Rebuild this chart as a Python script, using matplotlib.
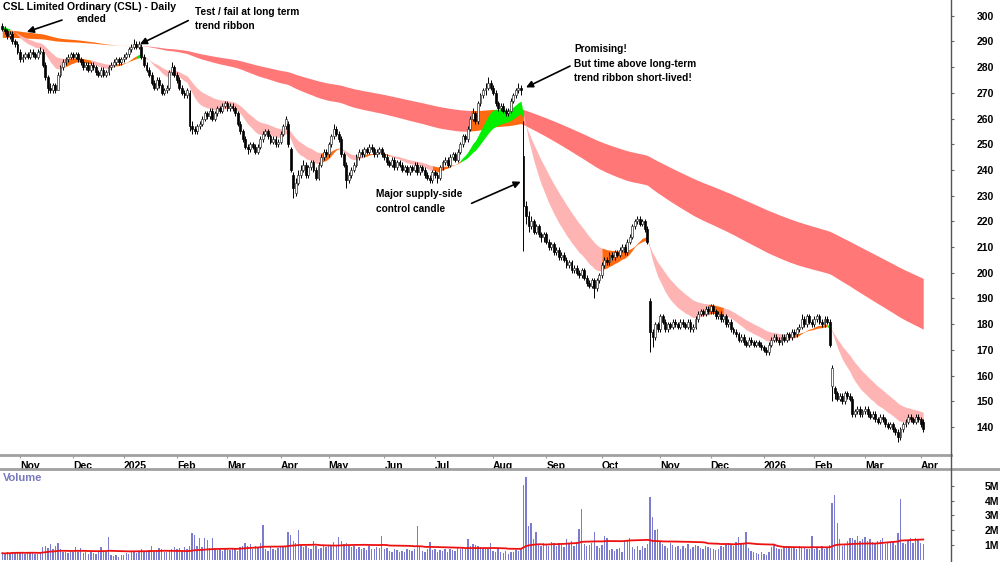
import numpy as np
import pandas as pd
import matplotlib
matplotlib.use('Agg')
import matplotlib.pyplot as plt
from matplotlib.lines import Line2D

# ASX trading days shown on the chart (23 Oct 2024 .. 2 Apr 2026)
FIRST_DAY = '2024-10-23'
LAST_DAY = '2026-04-02'
HOLIDAYS = ['2024-12-25', '2024-12-26', '2025-01-01', '2025-01-27', '2025-04-18',
            '2025-04-21', '2025-04-25', '2025-06-09', '2025-12-25', '2025-12-26',
            '2026-01-01', '2026-01-26']

# daily prices, one row per month (Oct 2024 .. Apr 2026)
closes = [
    295, 294, 292, 293, 290, 289, 286,
    283, 284, 285, 284, 286, 285, 284, 286, 286, 281, 276, 272, 271, 273, 271, 277, 280, 282, 283, 284, 285,
    284, 285, 283, 282, 280, 281, 279, 281, 280, 278, 277, 279, 277, 278, 280, 281, 282, 283, 282, 283,
    284, 285, 287, 288, 289, 288, 289, 284, 281, 279, 277, 274, 272, 275, 273, 270, 271, 272, 278, 280, 277,
    275, 272, 270, 269, 271, 257, 256, 255, 257, 258, 260, 262, 261, 263, 260, 262, 264, 263, 265, 266,
    264, 265, 264, 262, 258, 255, 252, 249, 248, 250, 249, 247, 249, 252, 254, 255, 253, 251, 252, 250, 251,
    254, 257, 260, 250, 240, 233, 235, 238, 240, 242, 238, 241, 243, 240, 237, 242, 245, 247, 246,
    250, 253, 256, 254, 252, 246, 242, 236, 238, 240, 242, 245, 247, 246, 248, 247, 249, 248, 246, 247, 248, 246,
    245, 243, 242, 244, 241, 243, 242, 240, 241, 239, 241, 240, 242, 239, 241, 240, 238, 237, 236, 239,
    238, 237, 241, 243, 244, 242, 245, 246, 244, 247, 250, 253, 252, 256, 260, 262, 259, 266, 269, 271, 272, 274, 272,
    270, 266, 264, 265, 263, 262, 263, 267, 269, 271, 272, 271, 226, 222, 218, 220, 216, 218, 215, 214, 215,
    212, 210, 211, 208, 209, 206, 207, 205, 203, 204, 201, 202, 200, 199, 201, 198, 196, 195, 197, 194, 197, 199,
    203, 205, 204, 207, 206, 208, 207, 209, 210, 208, 212, 214, 218, 220, 221, 219, 220, 217, 212, 177, 175, 180, 178,
    183, 181, 178, 180, 179, 181, 180, 179, 181, 180, 179, 181, 178, 179, 182, 184, 185, 184, 186, 185,
    187, 185, 183, 184, 182, 183, 180, 181, 178, 177, 176, 174, 175, 173, 172, 174, 173, 172, 173, 172, 171,
    170, 169, 172, 174, 175, 174, 173, 175, 174, 176, 175, 177, 176, 178, 179, 182, 180, 183, 181, 180,
    182, 183, 181, 180, 182, 181, 172, 163, 153, 151, 152, 150, 153, 152, 151, 145, 146, 147, 145, 146,
    147, 145, 144, 145, 143, 142, 144, 143, 141, 140, 141, 139, 138, 136, 139, 141, 142, 144, 143, 142, 144, 143,
    141, 139,
]
opens = [
    296, 295, 294, 292, 293, 290, 289,
    286, 283, 284, 285, 284, 286, 285, 284, 286, 286, 281, 276, 272, 271, 273, 271, 277, 280, 282, 283, 284,
    285, 284, 285, 283, 282, 280, 281, 279, 281, 280, 278, 277, 279, 277, 278, 280, 281, 282, 283, 282,
    283, 284, 285, 287, 288, 289, 288, 288, 284, 281, 279, 277, 274, 272, 275, 273, 270, 271, 272, 278, 280,
    277, 275, 272, 270, 269, 270, 257, 256, 255, 257, 258, 260, 262, 261, 263, 260, 262, 264, 263, 265,
    266, 264, 265, 264, 262, 258, 255, 252, 249, 248, 250, 249, 247, 249, 252, 254, 255, 253, 251, 252, 250,
    251, 254, 257, 258, 248, 238, 231, 235, 238, 240, 242, 238, 241, 243, 240, 237, 242, 245, 247,
    246, 250, 253, 256, 254, 252, 246, 242, 236, 238, 240, 242, 245, 247, 246, 248, 247, 249, 248, 246, 247, 248,
    246, 245, 243, 242, 244, 241, 243, 242, 240, 241, 239, 241, 240, 242, 239, 241, 240, 238, 237, 236,
    239, 238, 237, 241, 243, 244, 242, 245, 246, 244, 247, 250, 253, 252, 256, 260, 262, 259, 266, 269, 271, 272, 274,
    272, 270, 266, 264, 265, 263, 262, 263, 267, 269, 271, 272, 245.5, 226, 222, 218, 220, 216, 218, 215, 214,
    215, 212, 210, 211, 208, 209, 206, 207, 205, 203, 204, 201, 202, 200, 199, 201, 198, 196, 195, 197, 194, 197,
    199, 203, 205, 204, 207, 206, 208, 207, 209, 210, 208, 212, 214, 218, 220, 221, 219, 220, 217, 189, 177, 175, 180,
    178, 183, 181, 178, 180, 179, 181, 180, 179, 181, 180, 179, 181, 178, 179, 182, 184, 185, 184, 186,
    185, 187, 185, 183, 184, 182, 183, 180, 181, 178, 177, 176, 174, 175, 173, 172, 174, 173, 172, 173, 172,
    171, 170, 169, 172, 174, 175, 174, 173, 175, 174, 176, 175, 177, 176, 178, 179, 182, 180, 183, 181,
    180, 182, 183, 181, 180, 182, 181, 156, 155, 153, 151, 152, 150, 153, 152, 151, 145, 146, 147, 145,
    146, 147, 145, 144, 145, 143, 142, 144, 143, 141, 140, 141, 139, 138, 136, 139, 141, 142, 144, 143, 142, 144,
    143, 142,
]
highs = [
    297, 296, 295, 294, 294, 291, 290,
    287, 285, 286, 286, 287, 287, 286, 287, 288, 287, 282, 277, 274, 274, 274, 278, 281, 283, 284, 285, 286,
    286, 286, 286, 284, 283, 282, 282, 282, 282, 281, 279, 280, 280, 279, 281, 282, 283, 284, 284, 284,
    285, 286, 288, 289, 291, 290, 290, 289, 285, 282, 280, 278, 275, 276, 276, 274, 272, 273, 279, 282, 281,
    278, 276, 273, 271, 272, 271, 259, 257, 258, 259, 261, 263, 263, 264, 264, 263, 265, 265, 266, 267,
    267, 266, 266, 265, 263, 259, 256, 253, 250, 251, 251, 250, 250, 253, 255, 256, 256, 254, 253, 253, 252,
    255, 258, 261, 259, 249, 239, 237, 240, 242, 244, 243, 242, 244, 244, 241, 243, 246, 248, 248,
    251, 254, 258, 257, 255, 253, 247, 243, 239, 241, 243, 246, 248, 248, 249, 249, 250, 250, 249, 248, 249, 249,
    247, 246, 244, 245, 245, 244, 244, 243, 242, 242, 242, 242, 243, 243, 242, 242, 241, 239, 238, 240,
    240, 239, 242, 244, 245, 245, 246, 247, 247, 248, 251, 254, 254, 257, 261, 264, 263, 267, 270, 272, 274, 276, 275,
    273, 271, 267, 266, 266, 264, 264, 268, 270, 272, 274, 273, 259, 228, 224, 222, 221, 219, 219, 216, 216,
    216, 213, 212, 212, 210, 210, 208, 208, 206, 205, 205, 203, 203, 201, 202, 202, 199, 197, 198, 198, 198, 200,
    204, 206, 206, 208, 208, 209, 209, 210, 211, 211, 213, 215, 219, 221, 222, 222, 221, 221, 218, 190, 178, 181, 181,
    184, 184, 182, 181, 181, 182, 182, 181, 182, 182, 181, 182, 182, 180, 183, 185, 186, 186, 187, 187,
    188, 188, 186, 185, 185, 184, 184, 182, 182, 179, 178, 177, 176, 176, 174, 175, 175, 174, 174, 174, 173,
    172, 171, 173, 175, 176, 176, 175, 176, 176, 177, 177, 178, 178, 179, 180, 184, 183, 184, 184, 182,
    183, 184, 184, 182, 183, 183, 182, 164, 156, 154, 153, 153, 154, 154, 153, 152, 147, 148, 148, 147,
    148, 148, 146, 146, 146, 144, 145, 145, 144, 142, 142, 142, 140, 139, 140, 142, 143, 145, 145, 144, 145, 145,
    144, 143,
]
lows = [
    294, 293, 291, 291, 289, 288, 285,
    282, 282, 283, 283, 283, 284, 283, 283, 285, 280, 275, 270, 270, 270, 270, 271, 276, 279, 281, 282, 283,
    283, 283, 282, 281, 279, 279, 278, 278, 279, 277, 276, 276, 276, 276, 277, 279, 280, 281, 281, 281,
    282, 283, 284, 286, 287, 287, 287, 283, 280, 278, 276, 273, 271, 271, 272, 269, 269, 270, 271, 277, 276,
    274, 271, 269, 268, 268, 255, 254, 254, 254, 256, 257, 259, 260, 260, 259, 259, 261, 262, 262, 264,
    263, 263, 263, 261, 257, 254, 251, 248, 246, 247, 248, 246, 246, 248, 251, 253, 252, 250, 250, 249, 249,
    250, 253, 256, 249, 239, 229, 230, 234, 237, 239, 237, 237, 240, 239, 236, 236, 241, 244, 245,
    245, 249, 252, 253, 251, 245, 241, 233, 235, 237, 239, 241, 244, 245, 245, 246, 246, 247, 245, 245, 246, 245,
    244, 242, 241, 241, 240, 240, 241, 239, 239, 238, 238, 239, 239, 238, 238, 239, 237, 236, 235, 235,
    237, 235, 236, 240, 242, 241, 241, 244, 243, 243, 246, 249, 251, 251, 255, 259, 258, 258, 265, 268, 269, 271, 271,
    269, 265, 263, 263, 262, 261, 261, 262, 266, 268, 270, 269, 208.5, 219, 216, 217, 215, 215, 214, 212, 212,
    211, 209, 209, 207, 207, 205, 205, 204, 202, 202, 200, 200, 199, 198, 198, 197, 195, 194, 194, 190, 193, 196,
    198, 202, 203, 203, 205, 205, 206, 206, 208, 207, 207, 211, 213, 217, 219, 218, 218, 216, 211, 169, 171, 174, 177,
    177, 180, 177, 177, 178, 178, 179, 178, 178, 179, 178, 178, 177, 177, 178, 181, 183, 183, 183, 184,
    184, 184, 182, 182, 181, 181, 179, 179, 177, 176, 175, 173, 173, 172, 171, 171, 172, 171, 171, 171, 170,
    169, 168, 168, 171, 173, 173, 172, 172, 173, 173, 174, 174, 175, 175, 177, 178, 179, 179, 180, 179,
    179, 181, 180, 179, 179, 180, 171, 150, 151, 150, 150, 149, 149, 151, 150, 144, 144, 145, 144, 144,
    145, 144, 143, 143, 142, 141, 141, 142, 140, 139, 139, 138, 137, 134, 135, 138, 140, 141, 142, 141, 141, 142,
    140, 138,
]
# daily volume in millions of shares
volumes = [
    0.45, 0.40, 0.50, 0.42, 0.55, 0.48, 0.50,
    0.52, 0.45, 0.40, 0.55, 0.48, 0.50, 0.42, 0.38, 0.45, 0.85, 0.95, 0.80, 1.05, 0.70, 0.90, 1.15, 0.75, 0.55, 0.50, 0.45, 0.60,
    0.55, 0.85, 0.50, 0.80, 0.45, 0.55, 0.40, 0.50, 0.45, 0.40, 0.55, 0.85, 0.60, 0.50, 1.55, 0.35, 0.25, 0.30, 0.20, 0.35,
    0.30, 0.45, 0.40, 0.55, 0.50, 0.45, 0.60, 0.75, 0.55, 0.50, 0.65, 0.90, 0.55, 0.60, 0.80, 0.70, 0.50, 0.55, 0.60, 0.75, 0.85,
    0.75, 0.80, 0.60, 0.85, 0.70, 0.90, 1.80, 1.65, 0.95, 1.45, 0.85, 1.45, 1.35, 0.80, 1.45, 0.70, 0.65, 0.80, 0.60, 0.75,
    0.70, 0.65, 0.75, 0.80, 0.60, 0.85, 0.95, 1.10, 0.90, 1.05, 0.70, 0.95, 0.80, 1.15, 2.35, 0.75, 0.60, 0.85, 0.70, 0.65, 0.80,
    0.85, 0.90, 0.95, 1.85, 1.65, 1.30, 1.10, 2.00, 1.00, 0.85, 0.95, 0.80, 0.75, 1.30, 0.90, 0.70, 0.80, 0.95, 0.85,
    0.90, 1.00, 1.20, 0.95, 1.55, 1.30, 1.05, 1.10, 0.95, 0.85, 0.90, 0.75, 0.85, 0.70, 0.80, 0.65, 0.90, 0.75, 0.70, 0.85, 0.80, 1.60,
    0.75, 0.80, 0.60, 0.55, 0.70, 0.65, 0.50, 0.60, 0.55, 0.70, 0.65, 0.60, 0.75, 2.30, 0.85, 0.60, 0.55, 0.70, 1.20, 0.65,
    0.70, 0.55, 0.65, 0.60, 0.75, 0.50, 0.70, 0.65, 0.60, 0.80, 0.75, 0.85, 0.70, 1.40, 0.90, 1.05, 1.00, 0.95, 0.85, 0.75, 0.80, 0.70, 1.10,
    0.60, 0.55, 0.70, 0.50, 0.45, 0.60, 0.40, 0.55, 0.50, 0.65, 0.60, 0.70, 5.05, 5.57, 2.30, 2.50, 1.40, 1.85, 1.00, 0.90, 1.10,
    1.05, 0.95, 1.20, 1.10, 0.90, 1.15, 1.00, 0.85, 1.40, 1.10, 1.25, 0.95, 1.20, 2.10, 3.40, 1.05, 0.90, 1.00, 1.10, 1.90, 0.95, 0.80,
    1.00, 1.60, 1.50, 0.65, 0.70, 0.60, 0.75, 0.80, 0.55, 1.30, 1.35, 1.50, 0.85, 0.70, 0.90, 0.65, 0.95, 0.80, 1.05, 4.26, 2.90, 2.00, 2.05,
    1.20, 1.05, 0.95, 0.80, 1.10, 1.00, 0.85, 0.90, 0.75, 0.95, 0.80, 1.05, 0.70, 0.85, 1.00, 0.90, 0.80, 0.75, 0.95, 0.85,
    0.80, 0.70, 0.65, 0.75, 0.90, 0.85, 1.05, 1.10, 1.00, 0.95, 1.20, 1.56, 1.05, 1.10, 1.90, 0.80, 0.60, 0.50, 0.45, 0.40, 0.55,
    0.40, 0.35, 0.55, 0.85, 1.00, 0.80, 0.75, 0.70, 0.85, 0.90, 0.95, 0.80, 0.85, 0.75, 0.90, 0.85, 0.80, 0.70, 0.75, 1.60,
    0.70, 0.85, 0.65, 0.90, 0.75, 0.80, 1.00, 3.86, 4.40, 2.50, 1.40, 0.95, 1.05, 1.30, 1.45, 1.50, 1.35, 1.60, 1.25, 1.40,
    1.55, 1.30, 1.40, 1.20, 1.10, 1.25, 1.35, 1.50, 1.05, 1.20, 1.15, 1.30, 1.00, 1.80, 4.10, 1.10, 1.05, 1.25, 1.45, 1.10, 1.50, 1.35,
    1.10, 1.05,
]

# ribbon settings: EMA spans and their values just before the first bar
SHORT_SPANS = (15, 30)
SHORT_START = (296.0, 294.5)
LONG_SPANS = (150, 250)
LONG_START = (294.4, 291.5)

# ribbon colour regimes (first bar index of each regime)
short_starts = [0, 3, 25, 35, 45, 53, 55, 126, 134, 143, 153, 170, 181, 206, 237, 255, 279, 285, 312, 326, 327]
short_modes = ['up', 'down', 'mixed', 'down', 'mixed', 'up', 'down', 'mixed', 'down', 'mixed', 'down',
               'mixed', 'up', 'down', 'mixed', 'down', 'mixed', 'down', 'mixed', 'up', 'down']
long_starts = [0, 55, 185, 206]
long_modes = ['mixed', 'down', 'mixed', 'down']

SHORT_COLORS = {'up': '#00f000', 'mixed': '#ff6a10', 'down': '#ffb4b4'}
LONG_COLORS = {'up': '#00f000', 'mixed': '#ff6a10', 'down': '#ff7777'}


def ema(values, span, start):
    alpha = 2.0 / (span + 1)
    out = []
    e = start
    for v in values:
        e = e + alpha * (v - e)
        out.append(e)
    return np.array(out)


def draw_ribbon(ax, x, a, b, starts, modes, colors, z):
    hi = np.maximum(a, b)
    lo = np.minimum(a, b)
    ends = starts[1:] + [len(x) - 1]
    for s, e, m in zip(starts, ends, modes):
        ax.fill_between(x[s:e + 1], lo[s:e + 1], hi[s:e + 1], color=colors[m], lw=0, zorder=z)


def main():
    dates = pd.bdate_range(FIRST_DAY, LAST_DAY)
    dates = dates[~dates.isin(pd.to_datetime(HOLIDAYS))]
    x = np.arange(len(dates))
    c = np.array(closes, float)
    o = np.array(opens, float)
    h = np.maximum(np.array(highs, float), np.maximum(o, c))
    l = np.minimum(np.array(lows, float), np.minimum(o, c))
    v = np.array(volumes, float)
    assert len(c) == len(o) == len(h) == len(l) == len(v) == len(x)

    plt.rcParams['font.family'] = ['Liberation Sans', 'DejaVu Sans']
    plt.rcParams['font.weight'] = 'bold'

    fig = plt.figure(figsize=(10, 5.62), dpi=100)
    ax = fig.add_axes([0, 107 / 562, 0.951, 455 / 562])
    vax = fig.add_axes([0, 0, 0.951, 93 / 562])

    # ribbons
    draw_ribbon(ax, x, ema(c, LONG_SPANS[0], LONG_START[0]), ema(c, LONG_SPANS[1], LONG_START[1]),
                long_starts, long_modes, LONG_COLORS, 1)
    draw_ribbon(ax, x, ema(c, SHORT_SPANS[0], SHORT_START[0]), ema(c, SHORT_SPANS[1], SHORT_START[1]),
                short_starts, short_modes, SHORT_COLORS, 2)

    # candles
    up = c >= o
    ax.vlines(x, l, h, color='black', lw=0.7, zorder=3)
    body_lo = np.minimum(o, c)
    body_h = np.maximum(np.abs(c - o), 0.35)
    ax.bar(x[up], body_h[up], bottom=body_lo[up], width=0.75, color='white',
           edgecolor='#333333', lw=0.5, zorder=4)
    ax.bar(x[~up], body_h[~up], bottom=body_lo[~up], width=0.75, color='black',
           edgecolor='black', lw=0.5, zorder=4)

    ax.set_xlim(-0.905, 374.98)
    ax.set_ylim(129.07, 306.11)

    # month ticks
    starts = [i for i in range(1, len(dates)) if dates[i].month != dates[i - 1].month]
    labels = [str(dates[i].year) if dates[i].month == 1 else dates[i].strftime('%b') for i in starts]
    ax.set_xticks(starts)
    ax.set_xticklabels(labels, fontsize=7.5, fontweight='bold', ha='left')
    ax.tick_params(axis='x', direction='out', length=2.5, color='#999999', pad=1.5)

    ax.yaxis.tick_right()
    ax.set_yticks(np.arange(140, 301, 10))
    ax.tick_params(axis='y', direction='out', length=2.5, color='#666666', pad=28.5, labelsize=7.5)
    plt.setp(ax.get_yticklabels(), ha='right', fontweight='bold')

    for s in ['top', 'left', 'right']:
        ax.spines[s].set_visible(False)
    ax.spines['bottom'].set_color('#a0a0a0')
    ax.spines['bottom'].set_linewidth(2)

    # annotations
    txt = dict(fontsize=7.3, fontweight='bold', color='black', zorder=10, linespacing=1.55)
    arrow = dict(arrowstyle='-|>', color='black', lw=1.2, mutation_scale=10, shrinkA=0, shrinkB=0)
    ax.text(29.5, 298.6, 'ended', ha='left', va='center', **txt)
    ax.annotate('', xy=(9.7, 293.7), xytext=(23.6, 298.3), arrowprops=arrow, zorder=10)
    ax.text(76.2, 303.4, 'Test / fail at long term\ntrend ribbon', ha='left', va='top', **txt)
    ax.annotate('', xy=(54.4, 288.9), xytext=(73.5, 298.1), arrowprops=arrow, zorder=10)
    ax.text(226, 288.8, 'Promising!\nBut time above long-term\ntrend ribbon short-lived!',
            ha='left', va='top', **txt)
    ax.annotate('', xy=(207, 272.1), xytext=(224.4, 280.4), arrowprops=arrow, zorder=10)
    ax.text(147.7, 232.4, 'Major supply-side\ncontrol candle', ha='left', va='top', **txt)
    ax.annotate('', xy=(204.9, 235.4), xytext=(185.5, 227.0), arrowprops=arrow, zorder=10)

    fig.text(0.003, 1 - 7.5 / 562, 'CSL Limited Ordinary (CSL) - Daily', ha='left', va='center',
             fontsize=7.6, fontweight='bold', zorder=20,
             bbox=dict(facecolor='white', edgecolor='none', pad=1.0))

    # volume panel
    vax.bar(x, v, width=0.55, color='#7b7bcf', lw=0, zorder=2)
    vma = pd.Series(v).rolling(50, min_periods=1).mean()
    vax.plot(x, vma, color='#ee1111', lw=1.3, zorder=3)
    vax.set_xlim(-0.905, 374.98)
    vax.set_ylim(-0.15, 6.13)
    vax.set_xticks([])
    vax.yaxis.tick_right()
    vax.set_yticks([1, 2, 3, 4, 5])
    vax.set_yticklabels(['1M', '2M', '3M', '4M', '5M'])
    vax.tick_params(axis='y', direction='out', length=2.5, color='#666666', pad=32, labelsize=7.5)
    plt.setp(vax.get_yticklabels(), ha='right', fontweight='bold')
    for s in ['top', 'left', 'right', 'bottom']:
        vax.spines[s].set_visible(False)
    vax.text(0.003, 0.9, 'Volume', transform=vax.transAxes, ha='left', va='center',
             fontsize=8, fontweight='bold', color='#7878be')

    # frame lines
    fig.add_artist(Line2D([0, 1], [1 - 469 / 562] * 2, color='#a0a0a0', lw=2))
    fig.add_artist(Line2D([0.951, 0.951], [0, 1], color='#555555', lw=1))

    fig.savefig('out.png', dpi=100)


if __name__ == '__main__':
    main()
